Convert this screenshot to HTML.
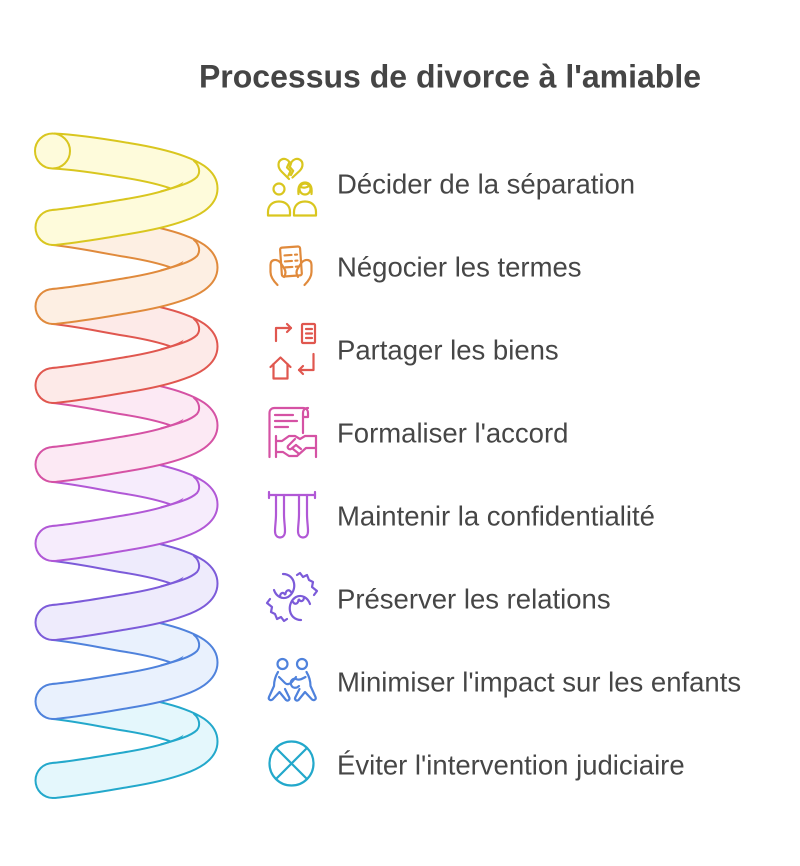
<!DOCTYPE html>
<html>
<head>
<meta charset="utf-8">
<style>
  html, body { margin: 0; padding: 0; background: #ffffff; }
  svg { display: block; }
  text { font-family: "Liberation Sans", Arial, sans-serif; }
</style>
</head>
<body>
<svg width="800" height="866" viewBox="0 0 800 866" xmlns="http://www.w3.org/2000/svg">
  <rect width="800" height="866" fill="#ffffff"/>

  <!-- ===== SPIRAL: back segments ===== -->
  <g fill="none" stroke-linecap="butt" stroke-linejoin="round">
    <g transform="translate(0,0)">
      <path d="M53,151 C75,152 101,156 126,160.25 C166.9,166.8 200,177.2 200,188.5" stroke="#d9c61f" stroke-width="37"/>
      <path d="M53,151 C75,152 101,156 126,160.25 C166.9,166.8 200,177.2 200,188.5" stroke="#fefbdb" stroke-width="33"/>
    </g>
    <g transform="translate(0,79)">
      <path d="M53,148.5 C75,150.5 101,156 126,160.25 C166.9,166.8 200,177.2 200,188.5" stroke="#e08a3c" stroke-width="37"/>
      <path d="M53,148.5 C75,150.5 101,156 126,160.25 C166.9,166.8 200,177.2 200,188.5" stroke="#fdefe3" stroke-width="33"/>
    </g>
    <g transform="translate(0,158)">
      <path d="M53,148.5 C75,150.5 101,156 126,160.25 C166.9,166.8 200,177.2 200,188.5" stroke="#e0574f" stroke-width="37"/>
      <path d="M53,148.5 C75,150.5 101,156 126,160.25 C166.9,166.8 200,177.2 200,188.5" stroke="#fdeae8" stroke-width="33"/>
    </g>
    <g transform="translate(0,237)">
      <path d="M53,148.5 C75,150.5 101,156 126,160.25 C166.9,166.8 200,177.2 200,188.5" stroke="#d552a4" stroke-width="37"/>
      <path d="M53,148.5 C75,150.5 101,156 126,160.25 C166.9,166.8 200,177.2 200,188.5" stroke="#fce9f4" stroke-width="33"/>
    </g>
    <g transform="translate(0,316)">
      <path d="M53,148.5 C75,150.5 101,156 126,160.25 C166.9,166.8 200,177.2 200,188.5" stroke="#b158d6" stroke-width="37"/>
      <path d="M53,148.5 C75,150.5 101,156 126,160.25 C166.9,166.8 200,177.2 200,188.5" stroke="#f6ecfc" stroke-width="33"/>
    </g>
    <g transform="translate(0,395)">
      <path d="M53,148.5 C75,150.5 101,156 126,160.25 C166.9,166.8 200,177.2 200,188.5" stroke="#7c5bd9" stroke-width="37"/>
      <path d="M53,148.5 C75,150.5 101,156 126,160.25 C166.9,166.8 200,177.2 200,188.5" stroke="#eeebfc" stroke-width="33"/>
    </g>
    <g transform="translate(0,474)">
      <path d="M53,148.5 C75,150.5 101,156 126,160.25 C166.9,166.8 200,177.2 200,188.5" stroke="#4f82dc" stroke-width="37"/>
      <path d="M53,148.5 C75,150.5 101,156 126,160.25 C166.9,166.8 200,177.2 200,188.5" stroke="#e9f1fd" stroke-width="33"/>
    </g>
    <g transform="translate(0,553)">
      <path d="M53,148.5 C75,150.5 101,156 126,160.25 C166.9,166.8 200,177.2 200,188.5" stroke="#23a8cb" stroke-width="37"/>
      <path d="M53,148.5 C75,150.5 101,156 126,160.25 C166.9,166.8 200,177.2 200,188.5" stroke="#e4f7fc" stroke-width="33"/>
    </g>
  </g>

  <!-- top opening of the tube -->
  <circle cx="52.5" cy="151" r="17.5" fill="#fefbdb" stroke="#d9c61f" stroke-width="2"/>

  <!-- ===== SPIRAL: front segments ===== -->
  <g stroke-linecap="butt" stroke-linejoin="round">
    <g transform="translate(0,0)">
      <path d="M200,188.5 C200,199.8 166.9,210.2 126,216.75 C101,221 73,226 53,227.5" fill="none" stroke="#d9c61f" stroke-width="37"/>
      <circle cx="53" cy="227.5" r="18.5" fill="#d9c61f"/>
      <path d="M200,188.5 C200,199.8 166.9,210.2 126,216.75 C101,221 73,226 53,227.5" fill="none" stroke="#fefbdb" stroke-width="33"/>
      <circle cx="53" cy="227.5" r="16.5" fill="#fefbdb"/>
      <path d="M161,191.3 C172,188.3 190,184 197,177 C201,172 199,165 194,161" fill="none" stroke="#d9c61f" stroke-width="2" stroke-linecap="round"/>
    </g>
    <g transform="translate(0,79)">
      <path d="M200,188.5 C200,199.8 166.9,210.2 126,216.75 C101,221 73,226 53,227.5" fill="none" stroke="#e08a3c" stroke-width="37"/>
      <circle cx="53" cy="227.5" r="18.5" fill="#e08a3c"/>
      <path d="M200,188.5 C200,199.8 166.9,210.2 126,216.75 C101,221 73,226 53,227.5" fill="none" stroke="#fdefe3" stroke-width="33"/>
      <circle cx="53" cy="227.5" r="16.5" fill="#fdefe3"/>
      <path d="M161,191.3 C172,188.3 190,184 197,177 C201,172 199,165 194,161" fill="none" stroke="#e08a3c" stroke-width="2" stroke-linecap="round"/>
    </g>
    <g transform="translate(0,158)">
      <path d="M200,188.5 C200,199.8 166.9,210.2 126,216.75 C101,221 73,226 53,227.5" fill="none" stroke="#e0574f" stroke-width="37"/>
      <circle cx="53" cy="227.5" r="18.5" fill="#e0574f"/>
      <path d="M200,188.5 C200,199.8 166.9,210.2 126,216.75 C101,221 73,226 53,227.5" fill="none" stroke="#fdeae8" stroke-width="33"/>
      <circle cx="53" cy="227.5" r="16.5" fill="#fdeae8"/>
      <path d="M161,191.3 C172,188.3 190,184 197,177 C201,172 199,165 194,161" fill="none" stroke="#e0574f" stroke-width="2" stroke-linecap="round"/>
    </g>
    <g transform="translate(0,237)">
      <path d="M200,188.5 C200,199.8 166.9,210.2 126,216.75 C101,221 73,226 53,227.5" fill="none" stroke="#d552a4" stroke-width="37"/>
      <circle cx="53" cy="227.5" r="18.5" fill="#d552a4"/>
      <path d="M200,188.5 C200,199.8 166.9,210.2 126,216.75 C101,221 73,226 53,227.5" fill="none" stroke="#fce9f4" stroke-width="33"/>
      <circle cx="53" cy="227.5" r="16.5" fill="#fce9f4"/>
      <path d="M161,191.3 C172,188.3 190,184 197,177 C201,172 199,165 194,161" fill="none" stroke="#d552a4" stroke-width="2" stroke-linecap="round"/>
    </g>
    <g transform="translate(0,316)">
      <path d="M200,188.5 C200,199.8 166.9,210.2 126,216.75 C101,221 73,226 53,227.5" fill="none" stroke="#b158d6" stroke-width="37"/>
      <circle cx="53" cy="227.5" r="18.5" fill="#b158d6"/>
      <path d="M200,188.5 C200,199.8 166.9,210.2 126,216.75 C101,221 73,226 53,227.5" fill="none" stroke="#f6ecfc" stroke-width="33"/>
      <circle cx="53" cy="227.5" r="16.5" fill="#f6ecfc"/>
      <path d="M161,191.3 C172,188.3 190,184 197,177 C201,172 199,165 194,161" fill="none" stroke="#b158d6" stroke-width="2" stroke-linecap="round"/>
    </g>
    <g transform="translate(0,395)">
      <path d="M200,188.5 C200,199.8 166.9,210.2 126,216.75 C101,221 73,226 53,227.5" fill="none" stroke="#7c5bd9" stroke-width="37"/>
      <circle cx="53" cy="227.5" r="18.5" fill="#7c5bd9"/>
      <path d="M200,188.5 C200,199.8 166.9,210.2 126,216.75 C101,221 73,226 53,227.5" fill="none" stroke="#eeebfc" stroke-width="33"/>
      <circle cx="53" cy="227.5" r="16.5" fill="#eeebfc"/>
      <path d="M161,191.3 C172,188.3 190,184 197,177 C201,172 199,165 194,161" fill="none" stroke="#7c5bd9" stroke-width="2" stroke-linecap="round"/>
    </g>
    <g transform="translate(0,474)">
      <path d="M200,188.5 C200,199.8 166.9,210.2 126,216.75 C101,221 73,226 53,227.5" fill="none" stroke="#4f82dc" stroke-width="37"/>
      <circle cx="53" cy="227.5" r="18.5" fill="#4f82dc"/>
      <path d="M200,188.5 C200,199.8 166.9,210.2 126,216.75 C101,221 73,226 53,227.5" fill="none" stroke="#e9f1fd" stroke-width="33"/>
      <circle cx="53" cy="227.5" r="16.5" fill="#e9f1fd"/>
      <path d="M161,191.3 C172,188.3 190,184 197,177 C201,172 199,165 194,161" fill="none" stroke="#4f82dc" stroke-width="2" stroke-linecap="round"/>
    </g>
    <g transform="translate(0,553)">
      <path d="M200,188.5 C200,199.8 166.9,210.2 126,216.75 C101,221 73,226 53,227.5" fill="none" stroke="#23a8cb" stroke-width="37"/>
      <circle cx="53" cy="227.5" r="18.5" fill="#23a8cb"/>
      <path d="M200,188.5 C200,199.8 166.9,210.2 126,216.75 C101,221 73,226 53,227.5" fill="none" stroke="#e4f7fc" stroke-width="33"/>
      <circle cx="53" cy="227.5" r="16.5" fill="#e4f7fc"/>
      <path d="M161,191.3 C172,188.3 190,184 197,177 C201,172 199,165 194,161" fill="none" stroke="#23a8cb" stroke-width="2" stroke-linecap="round"/>
    </g>
  </g>

  <!-- ===== TITLE ===== -->
  <text x="450" y="87.5" text-anchor="middle" font-size="32" font-weight="bold" fill="#454545">Processus de divorce à l'amiable</text>

  <!-- ===== LABELS ===== -->
  <g font-size="27.5" fill="#464646">
    <text x="337" y="193.5">Décider de la séparation</text>
    <text x="337" y="276.5">Négocier les termes</text>
    <text x="337" y="359.5">Partager les biens</text>
    <text x="337" y="442.5">Formaliser l'accord</text>
    <text x="337" y="525.5">Maintenir la confidentialité</text>
    <text x="337" y="608.5">Préserver les relations</text>
    <text x="337" y="691.5">Minimiser l'impact sur les enfants</text>
    <text x="337" y="774.5">Éviter l'intervention judiciaire</text>
  </g>

  <!-- ===== ICONS ===== -->
  <g fill="none" stroke-width="2.2" stroke-linecap="round" stroke-linejoin="round">
    <!-- 1: broken heart + two people -->
    <g stroke="#d9c61f">
      <path d="M289,179 L281.5,171.5 C277.5,167.5 277.5,161.5 281.5,159.5 C284.5,158 287.5,159.5 289.5,162 L287,167.5 L290.5,171 L288.5,175.5"/>
      <path d="M292.5,177.5 L299.5,171 C303.5,167 303.5,161.5 299.5,159.5 C296.5,158 293.5,159.5 291.5,162 L289.8,167 L293.2,170.8 L291,175"/>
      <circle cx="279" cy="189" r="5.5"/>
      <circle cx="305" cy="189" r="5.5"/>
      <path d="M268,215.5 V212 C268,205.5 272.5,201.5 279,201.5 C285.5,201.5 290,205.5 290,212 V215.5 Z"/>
      <path d="M294,215.5 V212 C294,205.5 298.5,201.5 305,201.5 C311.5,201.5 316,205.5 316,212 V215.5 Z"/>
      <path d="M298.5,194 C297.5,186 300.5,182.5 305,182.5 C309.5,182.5 312.5,186 311.5,194"/>
      <path d="M300,186.5 C303,188.5 307,187.5 310,185.5"/>
    </g>

    <!-- 2: hands holding document -->
    <g stroke="#e08a3c">
      <g transform="rotate(-4 291 262)">
        <rect x="281" y="247" width="20" height="29" rx="2"/>
        <path d="M285,255 h7 M295.5,255 h2 M285,261 h7 M295.5,261 h2 M285,267 h7 M295.5,267 h2"/>
      </g>
      <path d="M280,262 C276,258.5 270.5,259.5 270.5,265 V272 C270.5,277 273.5,281 277.5,285"/>
      <path d="M280,262 L284,268 C286,271 286,274 284,277"/>
      <path d="M302,262 C306,258.5 311.5,259.5 311.5,265 V272 C311.5,277 308.5,281 304.5,285"/>
      <path d="M302,262 L298,268 C296,271 296,274 298,277"/>
    </g>

    <!-- 3: arrows, document, house -->
    <g stroke="#e0574f">
      <path d="M276,341 V328 H291"/>
      <path d="M287,324 L291,328 L287,332"/>
      <rect x="302" y="324" width="13" height="19" rx="1"/>
      <path d="M306,329 H312 M306,333.5 H312 M306,338 H312"/>
      <path d="M270.5,367 L280.5,357.5 L290.5,367"/>
      <path d="M273.5,364 V378.5 H287.5 V364"/>
      <path d="M313.5,354 V370 H299"/>
      <path d="M303,366 L299,370 L303,374"/>
    </g>

    <!-- 4: scroll with handshake -->
    <g stroke="#d552a4">
      <path d="M269.5,457 V413 C269.5,410 271.5,408 274.5,408 H303 C306,408 308,410 308,413 V417 H303 V413 C303,410 305,408 308,408"/>
      <path d="M303,417 V433"/>
      <path d="M275,415 H293 M275,421 H297 M275,427 H288"/>
      <path d="M276,436 V457"/>
      <path d="M316,436 V457"/>
      <path d="M276,441 H282 L289,436 H295 L300,439 L305,436 H316"/>
      <path d="M276,452 H283 L289,456 H297 L306,448 H316"/>
      <path d="M295,439 L288,446 C287,448 289,450 291,449 L296,445"/>
      <path d="M296,445 L301,449 M293,449 L298,453"/>
    </g>

    <!-- 5: rings / bars -->
    <g stroke="#b158d6">
      <path d="M269,495 H315"/>
      <path d="M269,492 V498 M315,492 V498"/>
      <path d="M276,495 V514 C276,521 275,526 275,531 C275,535 277,537.5 280,537.5 C283,537.5 285,535 285,531 C285,526 284,521 284,514 V495"/>
      <path d="M299,495 V514 C299,521 298,526 298,531 C298,535 300,537.5 303,537.5 C306,537.5 308,535 308,531 C308,526 307,521 307,514 V495"/>
    </g>

    <!-- 6: hands -->
    <g stroke="#7c5bd9">
      <path d="M274,590 C276,596 282,600 288,597 C293,594 295,588 294,583 C293,578 289,574 283,574"/>
      <path d="M280,597 C280,593 283,591.5 285,594.5 M285.5,594 C286,590 289,589 291,592"/>
      <path d="M297,575 L300,573 L303,577 L307,575 L309,580 L313,582 L312,587 L317,591 L314,595"/>
      <path d="M310,604 C308,598 302,594 296,597 C291,600 289,606 290,611 C291,616 295,620 301,620"/>
      <path d="M304,597 C304,601 301,602.5 299,599.5 M298.5,600 C298,604 295,605 293,602"/>
      <path d="M287,619 L284,621 L281,617 L277,619 L275,614 L271,612 L272,607 L267,603 L270,599"/>
    </g>

    <!-- 7: children hugging -->
    <g stroke="#4f82dc">
      <circle cx="282.5" cy="664" r="5"/>
      <circle cx="302" cy="664" r="5"/>
      <path d="M278,672 C275,677 274,682 274,686 L269,697 C268,699.5 270.5,701 272.5,699.5 L279.5,692 L286,700 C288,701.5 290.5,699.5 289,697 L285,689"/>
      <path d="M279,677 L285,683 C287,685 290,684 292,682 L296,677"/>
      <path d="M306.5,672 C309.5,677 310.5,682 310.5,686 L315.5,697 C316.5,699.5 314,701 312,699.5 L305,692 L298.5,700 C296.5,701.5 294,699.5 295.5,697 L299.5,689"/>
      <path d="M305.5,677 C302,679 299,680.5 296,679 C293,678 290,680.5 291,684.5 C292,688 296,689 299,686"/>
    </g>

    <!-- 8: circle with X -->
    <g stroke="#23a8cb">
      <circle cx="291.5" cy="763.5" r="22"/>
      <path d="M276,748 L307,779 M307,748 L276,779"/>
    </g>
  </g>
</svg>
</body>
</html>
